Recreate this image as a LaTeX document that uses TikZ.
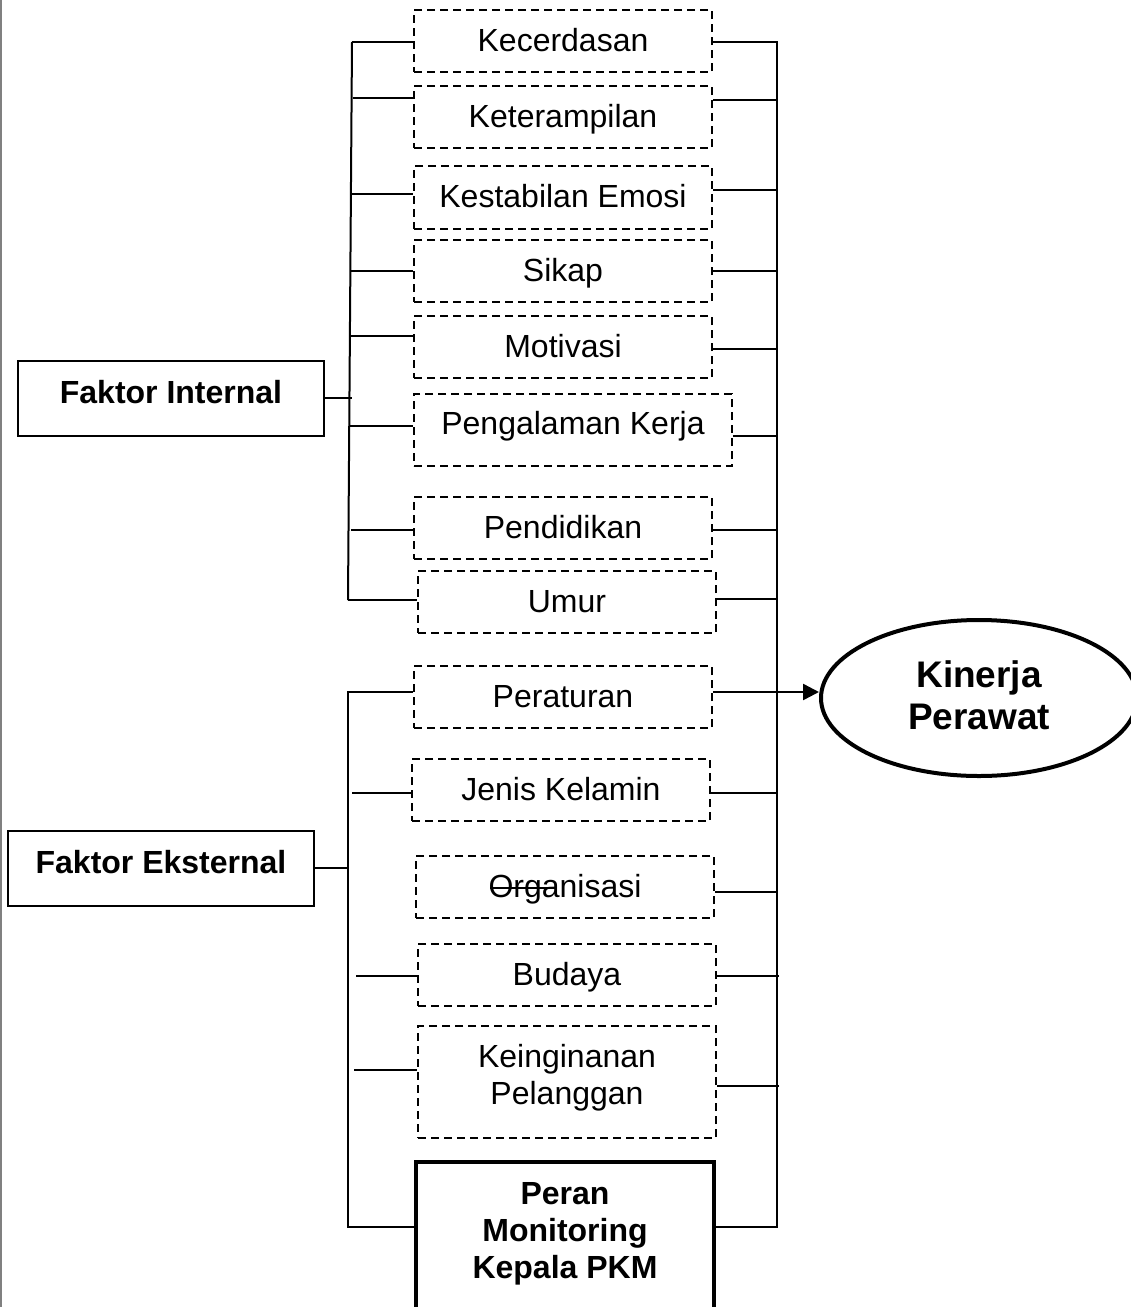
\documentclass[tikz,border=0pt]{standalone}
\usepackage{fontspec}
\setmainfont{Liberation Sans}
\usetikzlibrary{arrows.meta,shapes.geometric}
\begin{document}
\begin{tikzpicture}[x=1pt,y=-1pt,
  dbox/.style={draw,dash pattern=on 8pt off 5pt,line width=2pt,minimum width=298pt,minimum height=62pt,inner sep=0pt,font=\fontsize{32}{37}\selectfont,text height=25pt,text depth=5pt},
  mbox/.style={draw,dash pattern=on 8pt off 5pt,line width=2pt,minimum width=298pt,inner sep=0pt},
  fbox/.style={draw,line width=2pt,minimum width=306pt,minimum height=75pt,inner sep=0pt,font=\fontsize{32}{38}\selectfont\bfseries,text height=21pt,text depth=11pt},
  conn/.style={line width=2pt},
  lbl/.style={inner sep=0pt,align=center}]
\useasboundingbox (0,0) rectangle (1131,1307);
\draw[line width=2pt,gray] (1,0) -- (1,1307);

% dashed factor boxes
\node[dbox] (kec) at (563,41) {Kecerdasan};
\node[dbox] (ket) at (563,117) {Keterampilan};
\node[dbox,minimum height=63pt] (kes) at (563,197.5) {Kestabilan Emosi};
\node[dbox] (sik) at (563,271) {Sikap};
\node[dbox] (mot) at (563,347) {Motivasi};
\node[dbox,minimum width=318pt,minimum height=72pt,text height=21pt,text depth=13pt] (pen) at (573,430) {Pengalaman Kerja};
\node[dbox] (pdd) at (563,528) {Pendidikan};
\node[dbox] (umr) at (567,602) {Umur};
\node[dbox] (per) at (563,697) {Peraturan};
\node[dbox] (jen) at (561,790) {Jenis Kelamin};
\node[dbox] (org) at (565,887) {Organisasi};
\node[dbox] (bud) at (567,975) {Budaya};
\node[mbox,minimum height=112pt] (kei) at (567,1082) {};
\node[lbl,font=\fontsize{32}{37}\selectfont] (keit) at (567,1078) {Keinginanan\\Pelanggan};
\node[draw,line width=4pt,minimum width=298pt,minimum height=166pt,inner sep=0pt] (pmk) at (565,1245) {};
\node[lbl,font=\fontsize{32}{37}\selectfont\bfseries] (pmkt) at (565,1234) {Peran\\Monitoring\\Kepala PKM};

% strike over "Org"
\coordinate (s1) at (490,888);
\coordinate (s2) at (557,888);
\draw[line width=1.6pt] (s1) -- (s2);

% factor groups
\node[fbox] (fi) at (171,398.5) {Faktor Internal};
\node[fbox] (fe) at (161,868.5) {Faktor Eksternal};

% outcome
\node[ellipse,draw,line width=4pt,minimum width=316pt,minimum height=156pt,inner sep=0pt] (kin) at (979,698) {};
\node[lbl,font=\fontsize{37}{42}\selectfont\bfseries] (kint) at (979,695) {Kinerja\\Perawat};

% internal bus
\coordinate (ibT) at (352,42);
\coordinate (ibB) at (348,600);
\draw[conn] (ibT) -- (ibB);
\draw[conn] (fi.east |- 0,398) -- (352,398);
\draw[conn] (ibT) -- (kec.west |- 0,42);
\draw[conn] (353,98) -- (ket.west |- 0,98);
\draw[conn] (350,194) -- (kes.west |- 0,194);
\draw[conn] (351,271) -- (sik.west |- 0,271);
\draw[conn] (351,336) -- (mot.west |- 0,336);
\draw[conn] (350,426) -- (pen.west |- 0,426);
\draw[conn] (351,530) -- (pdd.west |- 0,530);
\draw[conn] (ibB) -- (umr.west |- 0,600);

% external bus
\draw[conn] (per.west |- 0,692) -- (348,692) -- (348,1227) -- (pmk.west |- 0,1227);
\draw[conn] (fe.east |- 0,868) -- (348,868);
\draw[conn] (352,793) -- (jen.west |- 0,793);
\draw[conn] (356,976) -- (bud.west |- 0,976);
\draw[conn] (354,1070) -- (kei.west |- 0,1070);

% right bus
\draw[conn] (kec.east |- 0,42) -- (777,42) -- (777,1227) -- (pmk.east |- 0,1227);
\draw[conn] (ket.east |- 0,100) -- (777,100);
\draw[conn] (kes.east |- 0,190) -- (777,190);
\draw[conn] (sik.east |- 0,271) -- (777,271);
\draw[conn] (mot.east |- 0,349) -- (777,349);
\draw[conn] (pen.east |- 0,436) -- (777,436);
\draw[conn] (pdd.east |- 0,530) -- (777,530);
\draw[conn] (umr.east |- 0,599) -- (777,599);
\draw[conn] (jen.east |- 0,793) -- (777,793);
\draw[conn] (org.east |- 0,892) -- (777,892);
\draw[conn] (bud.east |- 0,976) -- (779,976);
\draw[conn] (kei.east |- 0,1086) -- (779,1086);

% arrow to outcome
\draw[line width=2.5pt,-{Triangle[length=16pt,width=16pt]}] (per.east |- 0,692) -- (kin.west |- 0,692);
\end{tikzpicture}
\end{document}
